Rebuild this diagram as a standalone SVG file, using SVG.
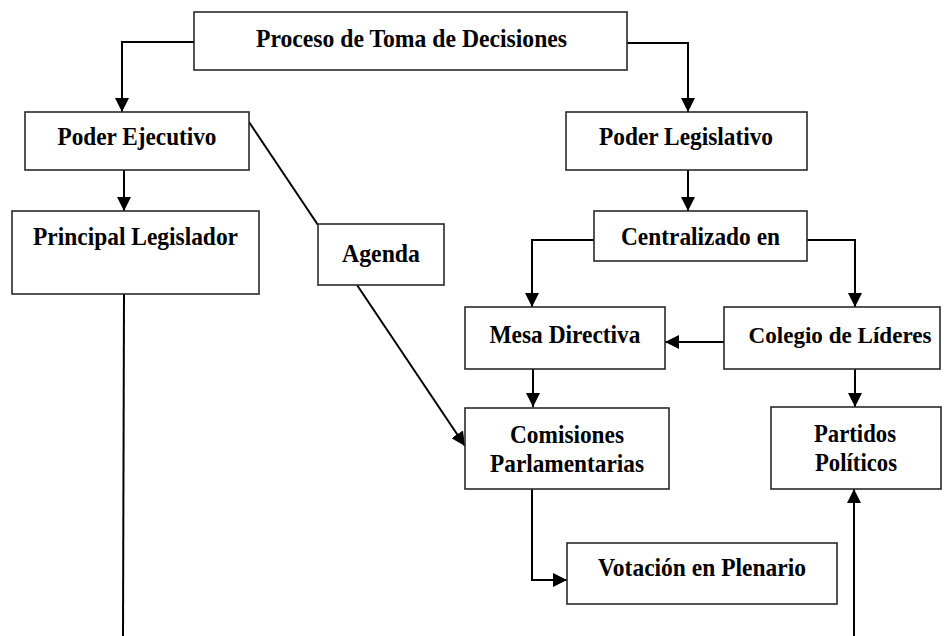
<svg xmlns="http://www.w3.org/2000/svg" width="944" height="636" viewBox="0 0 944 636">
<style>
.box{fill:#fff;stroke:#2a2a2a;stroke-width:1.6}
.lbl{font-family:"Liberation Serif","Times New Roman",serif;font-weight:bold;font-size:25px;fill:#000;text-anchor:middle}
.c{fill:none;stroke:#000;stroke-width:2}
.a{marker-end:url(#arr)}
</style>
<defs>
<marker id="arr" markerUnits="userSpaceOnUse" markerWidth="14" markerHeight="14" refX="14" refY="7" orient="auto">
<path d="M0,0 L14,7 L0,14 z" fill="#000"/>
</marker>
</defs>
<rect width="944" height="636" fill="#fff"/>
<g id="connectors">
<path class="c a" d="M194,42 H122 V112"/>
<path class="c a" d="M627,43 H688 V112"/>
<path class="c a" d="M124,170 V211"/>
<path class="c" d="M249,122 L318,225"/>
<path class="c a" d="M357,285 L465,446"/>
<path class="c" d="M124,294 L123,636"/>
<path class="c a" d="M688,170 V211"/>
<path class="c a" d="M594,240 H532 V307"/>
<path class="c a" d="M807,240 H855 V307"/>
<path class="c a" d="M724,342 H665"/>
<path class="c a" d="M533,369 V407"/>
<path class="c a" d="M855,369 V407"/>
<path class="c a" d="M532,489 V580 H567"/>
<path class="c a" d="M854,636 V489"/>
</g>
<g id="proceso"><rect class="box" x="194" y="12" width="433" height="58"/><text class="lbl" x="411.5" y="47" textLength="311" lengthAdjust="spacingAndGlyphs">Proceso de Toma de Decisiones</text></g>
<g id="ejecutivo"><rect class="box" x="25" y="112" width="224" height="58"/><text class="lbl" x="137" y="145" textLength="159" lengthAdjust="spacingAndGlyphs">Poder Ejecutivo</text></g>
<g id="legislador"><rect class="box" x="12" y="211" width="247" height="83"/><text class="lbl" x="135.5" y="245" textLength="205" lengthAdjust="spacingAndGlyphs">Principal Legislador</text></g>
<g id="agenda"><rect class="box" x="318" y="224" width="126" height="61"/><text class="lbl" x="381" y="262" textLength="78" lengthAdjust="spacingAndGlyphs">Agenda</text></g>
<g id="legislativo"><rect class="box" x="566" y="112" width="241" height="58"/><text class="lbl" x="686" y="145" textLength="174" lengthAdjust="spacingAndGlyphs">Poder Legislativo</text></g>
<g id="centralizado"><rect class="box" x="594" y="211" width="213" height="50"/><text class="lbl" x="700.5" y="245" textLength="159" lengthAdjust="spacingAndGlyphs">Centralizado en</text></g>
<g id="mesa"><rect class="box" x="465" y="307" width="200" height="62"/><text class="lbl" x="565" y="343" textLength="151" lengthAdjust="spacingAndGlyphs">Mesa Directiva</text></g>
<g id="colegio"><rect class="box" x="724" y="307" width="216" height="62"/><text class="lbl" x="840" y="343" style="font-size:23px" textLength="183" lengthAdjust="spacingAndGlyphs">Colegio de Líderes</text></g>
<g id="comisiones"><rect class="box" x="465" y="408" width="204" height="81"/><text class="lbl" x="567" y="443" textLength="114" lengthAdjust="spacingAndGlyphs">Comisiones</text><text class="lbl" x="567" y="472" textLength="154" lengthAdjust="spacingAndGlyphs">Parlamentarias</text></g>
<g id="partidos"><rect class="box" x="771" y="407" width="170" height="82"/><text class="lbl" x="855" y="442" textLength="82" lengthAdjust="spacingAndGlyphs">Partidos</text><text class="lbl" x="856" y="471" textLength="82" lengthAdjust="spacingAndGlyphs">Políticos</text></g>
<g id="votacion"><rect class="box" x="567" y="543" width="270" height="61"/><text class="lbl" x="702" y="576" textLength="208" lengthAdjust="spacingAndGlyphs">Votación en Plenario</text></g>
</svg>
